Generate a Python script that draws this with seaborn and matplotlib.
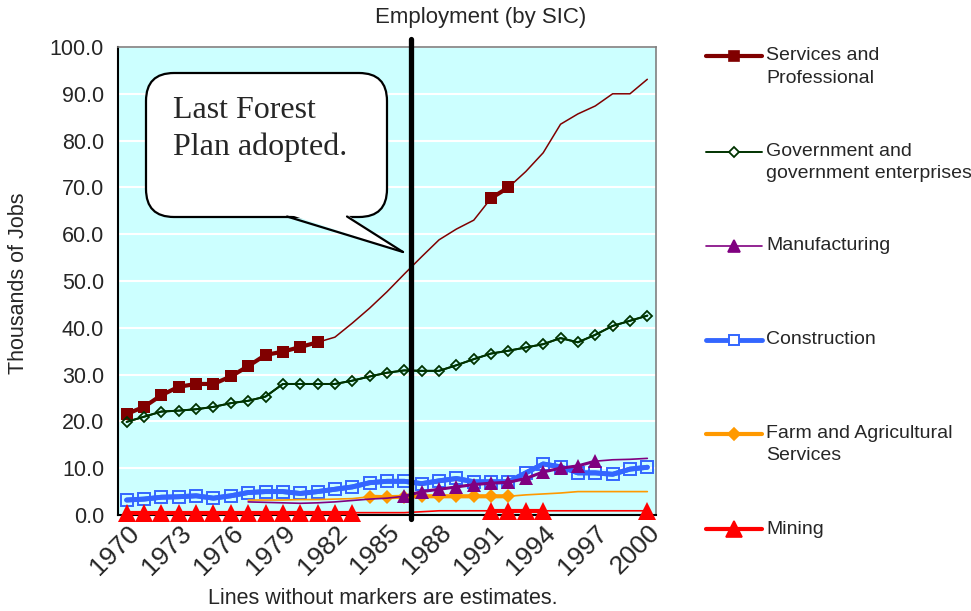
import numpy as np
import pandas as pd
import seaborn as sns
import matplotlib.pyplot as plt
from matplotlib.lines import Line2D
from matplotlib.patches import FancyBboxPatch, Polygon
from matplotlib.transforms import ScaledTranslation

# data (thousands of jobs)
years = list(range(1970, 2001))
services = [21.6, 23.1, 25.6, 27.4, 28.0, 28.0, 29.6, 31.8, 34.2, 34.9, 35.9, 36.9, 38.0, 41.0, 44.2, 47.7,
            51.5, 55.2, 58.8, 61.1, 63.0, 67.7, 70.0, 73.4, 77.4, 83.5, 85.7, 87.4, 90.0, 90.0, 93.1]
government = [19.9, 21.0, 22.1, 22.3, 22.6, 23.1, 23.9, 24.4, 25.3, 28.0, 28.0, 28.0, 28.0, 28.7, 29.6, 30.4,
              30.9, 30.8, 30.8, 32.0, 33.3, 34.5, 35.1, 35.8, 36.5, 37.8, 36.9, 38.5, 40.4, 41.5, 42.6]
manufacturing = [np.nan] * 7 + [2.8, 2.7, 2.6, 2.5, 2.6, 2.8, 3.1, 3.4, 3.6,
                                4.0, 5.0, 5.5, 6.0, 6.5, 6.8, 7.0, 7.8, 9.2, 10.0, 10.5, 11.5, 11.8, 11.9, 12.1]
construction = [3.2, 3.4, 3.8, 3.9, 4.1, 3.6, 4.1, 4.8, 5.0, 5.0, 4.6, 5.0, 5.5, 6.0, 6.9, 7.2,
                7.2, 6.7, 7.3, 7.8, 7.1, 7.1, 7.1, 9.0, 10.9, 10.3, 9.0, 9.0, 8.7, 9.8, 10.2]
farm = [np.nan] * 7 + [3.2, 3.2, 3.2, 3.3, 3.3, 3.4, 3.5, 3.9, 3.8,
                       3.9, 4.0, 4.0, 4.0, 4.0, 4.0, 4.0, 4.3, 4.5, 4.7, 5.0, 5.0, 5.0, 5.0, 5.0]
mining = [0.5] * 17 + [0.7] + [0.9] * 13

# years with reported values (drawn with markers); the rest are estimates
services_obs = list(range(1970, 1982)) + [1991, 1992]
government_obs = years
manufacturing_obs = list(range(1986, 1998))
construction_obs = years
farm_obs = list(range(1984, 1993))
mining_obs = list(range(1970, 1984)) + list(range(1991, 1995)) + [2000]

series = [
    ("Services and\nProfessional", services, services_obs,
     dict(color="#800000", thin=1.1, thick=3.0, marker="s", ms=9, mfc="#800000", mew=0, z=3)),
    ("Government and\ngovernment enterprises", government, government_obs,
     dict(color="#003300", thin=1.4, thick=1.4, marker="D", ms=5.5, mfc="none", mew=1.3, z=3)),
    ("Construction", construction, construction_obs,
     dict(color="#3366FF", thin=3.5, thick=3.5, marker="s", ms=9, mfc="none", mew=1.4, z=4)),
    ("Farm and Agricultural\nServices", farm, farm_obs,
     dict(color="#FF9900", thin=1.2, thick=3.0, marker="D", ms=7, mfc="#FF9900", mew=0, z=5)),
    ("Manufacturing", manufacturing, manufacturing_obs,
     dict(color="#800080", thin=1.2, thick=2.2, marker="^", ms=10, mfc="#800080", mew=0, z=6)),
    ("Mining", mining, mining_obs,
     dict(color="#FF0000", thin=1.2, thick=3.0, marker="^", ms=13, mfc="#FF0000", mew=0, z=7)),
]
legend_order = ["Services and\nProfessional", "Government and\ngovernment enterprises", "Manufacturing",
                "Construction", "Farm and Agricultural\nServices", "Mining"]


def observed_runs(vals, obs):
    rows, seg, prev = [], 0, None
    for yr, v in zip(years, vals):
        if yr in obs:
            if prev is None or yr != prev + 1:
                seg += 1
            rows.append((yr, v, seg))
            prev = yr
    return pd.DataFrame(rows, columns=["year", "value", "seg"])


sns.set_style("white")
plt.rcParams["font.family"] = ["Liberation Sans", "DejaVu Sans"]

W, H = 971, 611
fig = plt.figure(figsize=(W / 100, H / 100), dpi=100)
ax = fig.add_axes([118 / W, 1 - 515 / H, (656 - 118) / W, (515 - 47) / H])
ax.set_facecolor("#CCFFFF")

for name, vals, obs, st in series:
    full = pd.DataFrame({"year": years, "value": vals}).dropna()
    sns.lineplot(data=full, x="year", y="value", color=st["color"], lw=st["thin"],
                 ax=ax, legend=False, zorder=st["z"], clip_on=False)
    runs = observed_runs(vals, obs)
    sns.lineplot(data=runs, x="year", y="value", units="seg", estimator=None,
                 color=st["color"], lw=st["thick"], marker=st["marker"], ms=st["ms"],
                 mfc=st["mfc"], mec=st["color"], mew=st["mew"],
                 ax=ax, legend=False, zorder=st["z"] + 0.5, clip_on=False)

# forest plan line
ax.plot([1986.4, 1986.4], [-0.8, 101.8], color="black", lw=3.8, clip_on=False, zorder=10)

ax.set_xlim(1969.5, 2000.5)
ax.set_ylim(0, 100)
ax.set_yticks(np.arange(0, 101, 10))
ax.set_yticklabels([f"{v:.1f}" for v in np.arange(0, 101, 10)], fontsize=15.5)
ax.yaxis.grid(True, color="white", lw=1.5)
ax.set_axisbelow(True)
ax.set_xticks(np.arange(1969.5, 2001, 1))
ax.set_xticklabels([])
label_years = list(range(1970, 2001, 3))
ax.set_xticks(label_years, minor=True)
ax.set_xticklabels([str(y) for y in label_years], minor=True, rotation=45, ha="right", va="top",
                   rotation_mode="anchor", fontsize=19)
shift = ScaledTranslation(-0.05, 0, fig.dpi_scale_trans)
for lbl in ax.get_xticklabels(minor=True):
    lbl.set_transform(lbl.get_transform() + shift)
ax.tick_params(axis="x", which="major", direction="out", length=6, width=1.2, color="black")
ax.tick_params(axis="x", which="minor", length=0, pad=4)
ax.tick_params(axis="y", direction="out", length=6, width=1.2, color="black", pad=4)
ax.set_xlabel("")
ax.set_ylabel("")
for s in ["left", "bottom"]:
    ax.spines[s].set_color("black")
    ax.spines[s].set_linewidth(1.5)
for s in ["top", "right"]:
    ax.spines[s].set_color("#808080")
    ax.spines[s].set_linewidth(1.2)

fig.text(481 / W, 1 - 18 / H, "Employment (by SIC)", ha="center", va="center", fontsize=16)
fig.text(19 / W, 1 - 283 / H, "Thousands of Jobs", rotation=90, ha="center", va="center", fontsize=15.5)
fig.text(383 / W, 1 - 598 / H, "Lines without markers are estimates.", ha="center", va="center", fontsize=15.5)

# callout bubble (pixel positions converted to inches)
px = lambda x, y: (x / 100, (H - y) / 100)
bx, by = px(146, 217)
bubble = FancyBboxPatch((bx, by), (387 - 146) / 100, (217 - 73) / 100,
                        boxstyle="round,pad=0,rounding_size=0.28", transform=fig.dpi_scale_trans,
                        facecolor="white", edgecolor="black", lw=1.6, zorder=20)
fig.add_artist(bubble)
tail = Polygon([px(288, 214), px(346, 214), px(403, 252)], closed=True, transform=fig.dpi_scale_trans,
               facecolor="white", edgecolor="none", zorder=21)
fig.add_artist(tail)
for x0 in (287, 347):
    (xa, ya), (xb, yb) = px(x0, 216.5), px(403, 252)
    fig.add_artist(Line2D([xa, xb], [ya, yb], transform=fig.dpi_scale_trans, color="black", lw=1.6, zorder=22))
fig.text(173 / W, 1 - 118 / H, "Last Forest", fontsize=23, family="Liberation Serif", zorder=23)
fig.text(173 / W, 1 - 155 / H, "Plan adopted.", fontsize=23, family="Liberation Serif", zorder=23)

# legend drawn by hand to keep first text line level with the symbol
styles = {name: st for name, _, _, st in series}
leg_y = [56, 151.5, 246, 339.5, 433.5, 529]
for name, yc in zip(legend_order, leg_y):
    st = styles[name]
    lw = st["thick"] if st["thick"] >= 3 else st["thin"]
    yy = 1 - yc / H
    fig.add_artist(Line2D([706 / W, 762 / W], [yy, yy], color=st["color"], lw=lw, solid_capstyle="round"))
    fig.add_artist(Line2D([734 / W], [yy], marker=st["marker"], ms=st["ms"] * 0.85,
                          mfc=st["mfc"] if st["mfc"] != "none" else "white", mec=st["color"],
                          mew=max(st["mew"], 1.2), color=st["color"]))
    for i, line in enumerate(name.split("\n")):
        fig.text(766 / W, 1 - (yc + 22.5 * i) / H, line, ha="left", va="center", fontsize=14)

fig.savefig("out.png", dpi=100)
